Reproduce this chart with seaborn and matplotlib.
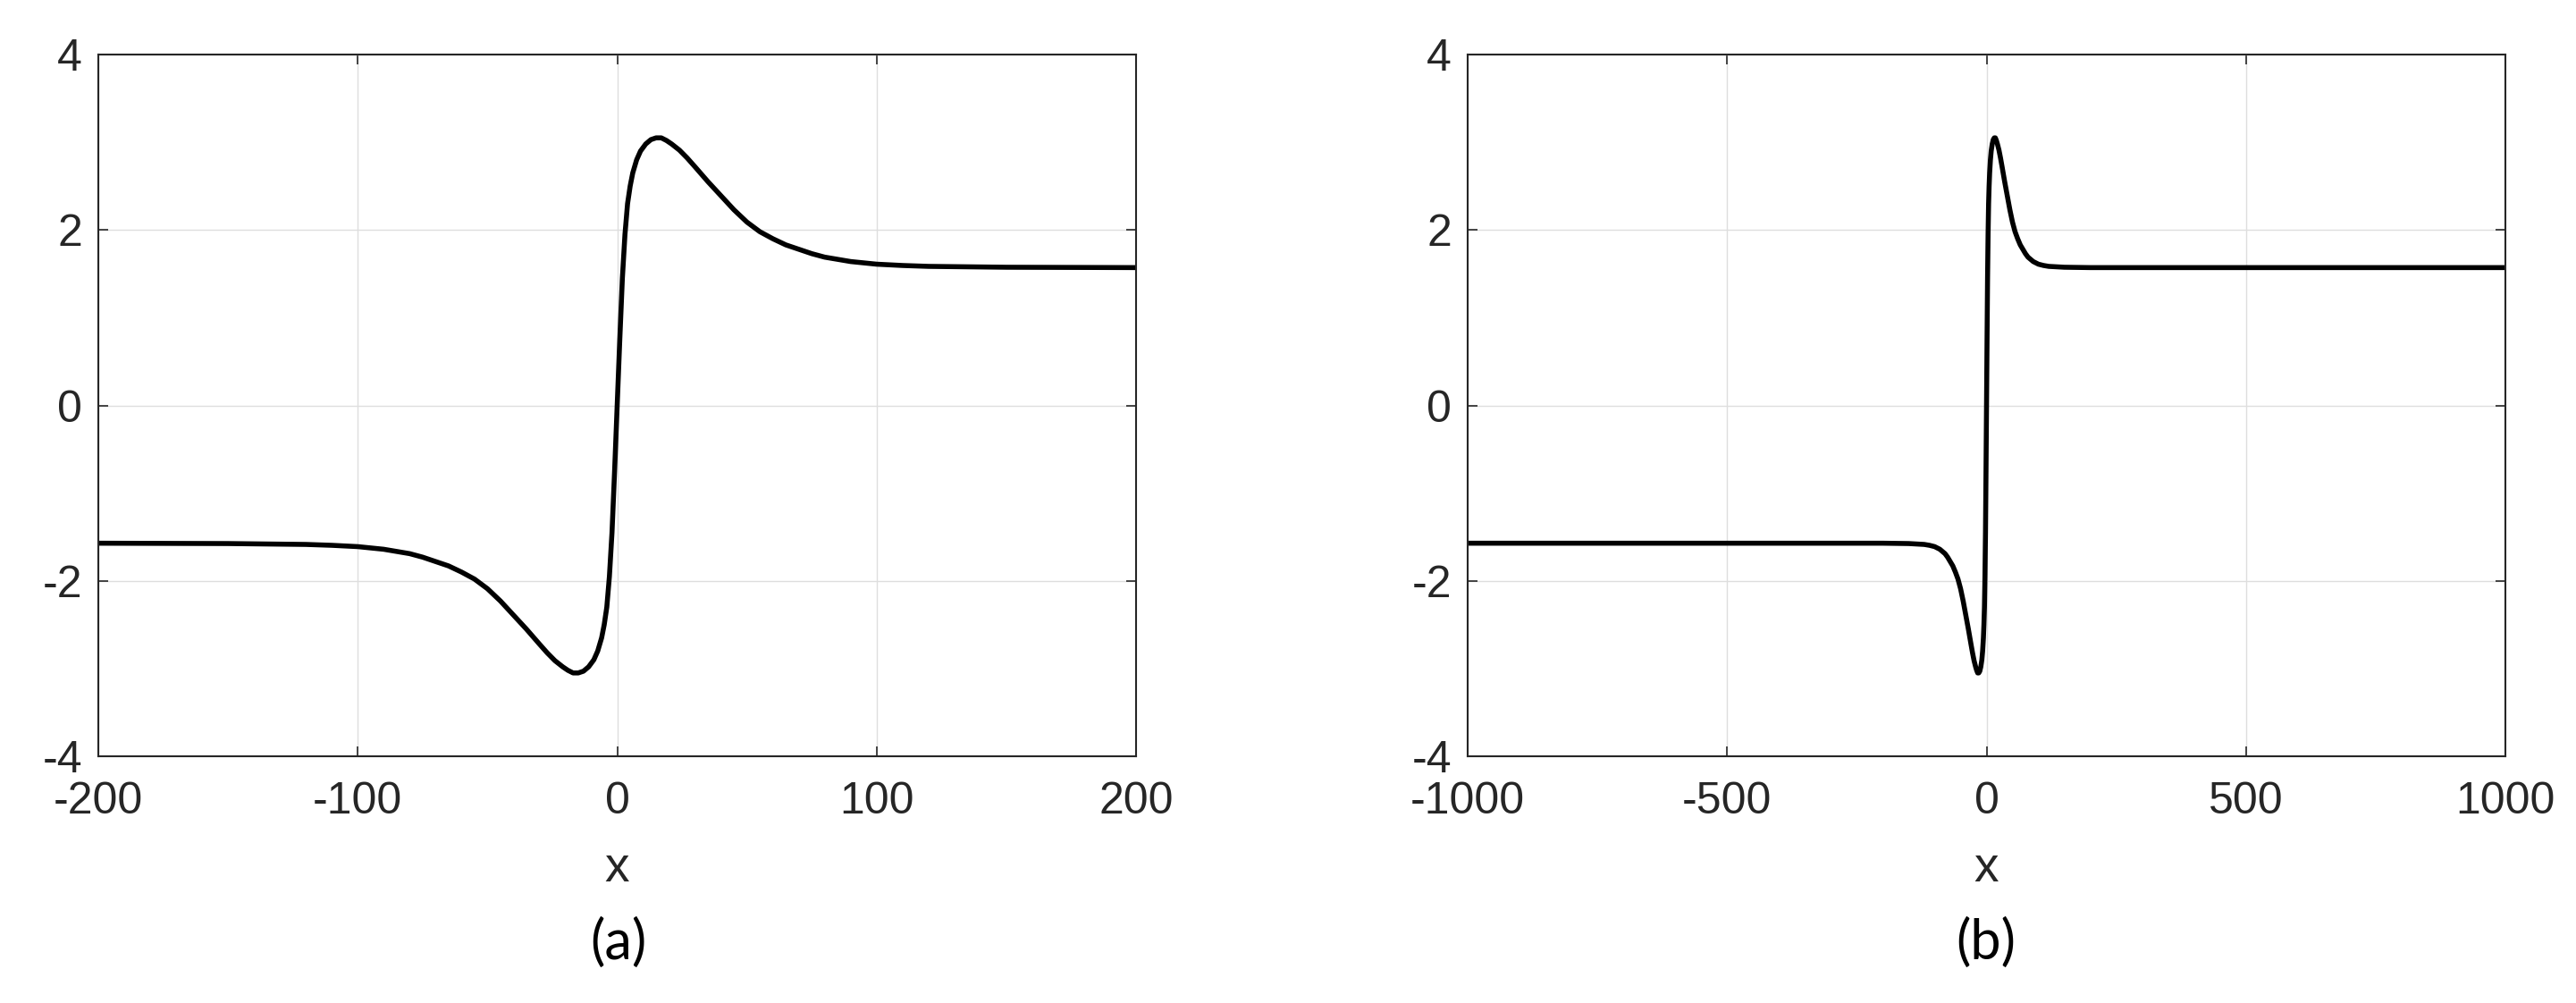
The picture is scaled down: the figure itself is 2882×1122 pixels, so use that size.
import numpy as np
import pandas as pd
import matplotlib
matplotlib.use("Agg")
import matplotlib.pyplot as plt
import seaborn as sns

# ---- data ----
x_vals = [-1000, -200, -150, -120, -110, -100, -90, -80, -75, -70, -65, -60, -55, -50,
          -45, -40, -35, -30, -27, -24, -21, -19, -17, -15, -13, -11, -9, -7.5,
          -6, -5, -4, -3, -2, -1,
          0, 1, 2, 3, 4, 5, 6, 7.5, 9, 11, 13, 15, 17, 19, 21, 24, 27, 30, 35,
          40, 45, 50, 55, 60, 65, 70, 75, 80, 90, 100, 110, 120, 150, 200, 1000]
y_vals = [-1.571, -1.571, -1.575, -1.585, -1.595, -1.61, -1.64, -1.69, -1.73, -1.78,
          -1.83, -1.90, -1.98, -2.09, -2.23, -2.39, -2.55, -2.72, -2.82, -2.91,
          -2.98, -3.02, -3.05, -3.05, -3.03, -2.98, -2.90, -2.80,
          -2.65, -2.50, -2.30, -1.95, -1.45, -0.75,
          0.0, 0.75, 1.45, 1.95, 2.30, 2.50, 2.65, 2.80, 2.90, 2.98, 3.03, 3.05,
          3.05, 3.02, 2.98, 2.91, 2.82, 2.72, 2.55, 2.39, 2.23, 2.09, 1.98, 1.90,
          1.83, 1.78, 1.73, 1.69, 1.64, 1.61, 1.595, 1.585, 1.575, 1.571, 1.571]

panel_labels = ["(a)", "(b)"]
x_limits = [(-200, 200), (-1000, 1000)]
x_ticks = [[-200, -100, 0, 100, 200], [-1000, -500, 0, 500, 1000]]
y_ticks = [-4, -2, 0, 2, 4]
x_label = "x"

df = pd.DataFrame({"x": x_vals, "y": y_vals})

sns.set_theme(style="white")
plt.rcParams["font.family"] = ["Liberation Sans", "DejaVu Sans"]
plt.rcParams["axes.unicode_minus"] = False

W, H = 2882, 1122
fig = plt.figure(figsize=(W / 100, H / 100), dpi=100)

ax_rects = [
    (110 / W, (H - 846) / H, 1161 / W, 785 / H),
    (1642 / W, (H - 846) / H, 1161 / W, 785 / H),
]
label_cx = [692 / W, 2222 / W]

dark = "#262626"
for i, rect in enumerate(ax_rects):
    ax = fig.add_axes(rect)
    sns.lineplot(data=df, x="x", y="y", ax=ax, color="black", linewidth=4.0,
                 sort=False, estimator=None)
    ax.set_xlim(*x_limits[i])
    ax.set_ylim(-4, 4)
    ax.set_xticks(x_ticks[i])
    ax.set_yticks(y_ticks)
    ax.grid(True, color="#dedede", linewidth=1.0)
    ax.set_axisbelow(True)
    for s in ax.spines.values():
        s.set_visible(True)
        s.set_color(dark)
        s.set_linewidth(1.5)
    ax.tick_params(axis="both", direction="in", length=8, width=1.2, color=dark,
                   labelsize=36, labelcolor=dark, top=True, right=True,
                   bottom=True, left=True)
    ax.tick_params(axis="x", pad=20)
    ax.tick_params(axis="y", pad=13)
    ax.set_xlabel(x_label, fontsize=39.6, color=dark)
    ax.xaxis.label.set_va("baseline")
    ax.xaxis.set_label_coords(0.5, (846 - 986) / 785)
    ax.set_ylabel("")
    fig.text(label_cx[i], (H - 1073) / H, panel_labels[i], fontsize=44,
             family=["Lato", "DejaVu Sans"], ha="center", va="baseline",
             color="black")

fig.savefig("out.png", dpi=100, facecolor="white")
